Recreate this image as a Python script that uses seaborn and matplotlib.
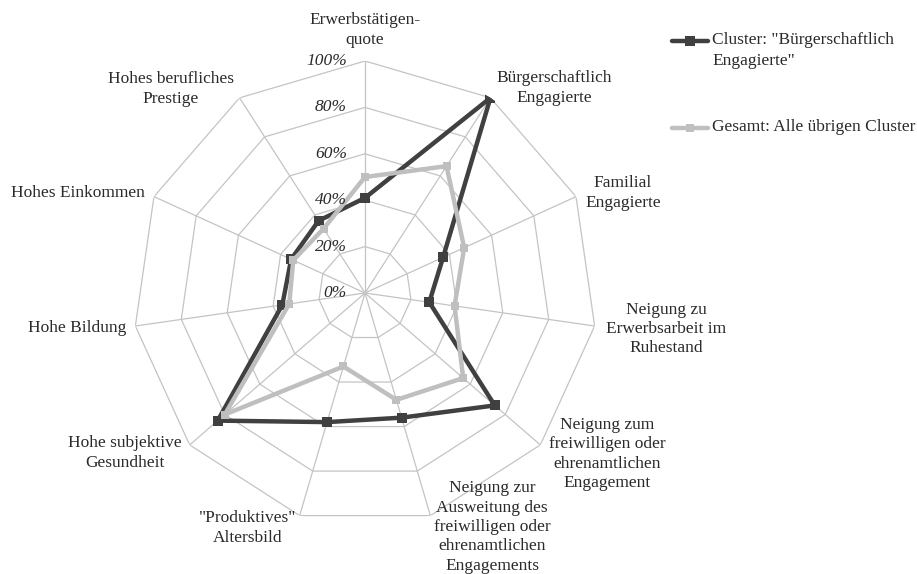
import numpy as np
import pandas as pd
import matplotlib
matplotlib.use("Agg")
import matplotlib.pyplot as plt
from matplotlib.lines import Line2D
import seaborn as sns

# Data (percent)
categories = [
    "Erwerbstätigen-\nquote",
    "Bürgerschaftlich\nEngagierte",
    "Familial\nEngagierte",
    "Neigung zu\nErwerbsarbeit im\nRuhestand",
    "Neigung zum\nfreiwilligen oder\nehrenamtlichen\nEngagement",
    "Neigung zur\nAusweitung des\nfreiwilligen oder\nehrenamtlichen\nEngagements",
    "\"Produktives\"\nAltersbild",
    "Hohe subjektive\nGesundheit",
    "Hohe Bildung",
    "Hohes Einkommen",
    "Hohes berufliches\nPrestige",
]
cluster_values = [41, 100, 37, 28, 74, 56, 58, 84, 36, 35, 37]
others_values = [50, 65, 47, 39, 56, 48, 33, 80, 33, 34, 33]
series_names = ["Cluster: \"Bürgerschaftlich\nEngagierte\"", "Gesamt: Alle übrigen Cluster"]
ring_levels = [0, 20, 40, 60, 80, 100]
ring_labels = ["0%", "20%", "40%", "60%", "80%", "100%"]

# layout (pixel centres of the category labels)
label_pos = [(365, 30), (554, 88), (623, 193), (666, 329), (607, 454), (492, 527),
             (248, 528), (125, 453), (77, 328), (78, 193), (171, 89)]

sns.set_theme(style="white")
plt.rcParams["font.family"] = ["Liberation Serif", "DejaVu Serif"]

DARK, LIGHT, GRID, TXT = "#404040", "#bfbfbf", "#c4c4c4", "#2a2a2a"
W, H = 917, 574
fig = plt.figure(figsize=(W / 100, H / 100), dpi=100)
cx, cy, R = 365, 293, 232
ax = fig.add_axes([(cx - R) / W, (H - cy - R) / H, 2 * R / W, 2 * R / H], projection="polar")
ax.set_theta_zero_location("N")
ax.set_theta_direction(-1)
ax.set_ylim(0, 100)
ax.grid(False)
ax.spines["polar"].set_visible(False)
ax.set_xticks([])
ax.set_yticks([])
ax.patch.set_alpha(0)

n = len(categories)
theta = np.linspace(0, 2 * np.pi, n, endpoint=False)
closed = np.append(theta, 2 * np.pi)

# polygon grid
for lvl in ring_levels[1:]:
    ax.plot(closed, [lvl] * (n + 1), color=GRID, lw=0.9, zorder=1)
for t in theta:
    ax.plot([t, t], [0, 100], color=GRID, lw=0.9, zorder=1)

# series
styles = [(cluster_values, DARK, 6.5), (others_values, LIGHT, 5.5)]
for vals, col, ms in styles:
    df = pd.DataFrame({"theta": closed, "value": vals + [vals[0]]})
    sns.lineplot(data=df, x="theta", y="value", sort=False, estimator=None, color=col,
                 lw=3.2, marker="s", markersize=ms, markeredgewidth=0, ax=ax, zorder=3)
ax.set_xlabel("")
ax.set_ylabel("")

# radial tick labels
for lvl, lab in zip(ring_levels, ring_labels):
    ax.annotate(lab, xy=(0, lvl), xytext=(-18, 0), textcoords="offset pixels",
                ha="right", va="center", fontsize=12.5, style="italic", color=TXT, zorder=4)

# category labels
for lab, (px, py) in zip(categories, label_pos):
    fig.text(px / W, 1 - py / H, lab, ha="center", va="center", fontsize=12.5,
             color=TXT, linespacing=1.28)

# legend, handle aligned with the first text line as in the reference
for (vals, col, ms), name, y in zip(styles, series_names, [41, 128]):
    yf = 1 - y / H
    fig.add_artist(Line2D([672 / W, 708 / W], [yf, yf], transform=fig.transFigure,
                          color=col, lw=3.2))
    fig.add_artist(Line2D([690 / W], [yf], transform=fig.transFigure, color=col,
                          marker="s", markersize=ms, markeredgewidth=0))
    fig.text(712 / W, 1 - (y - 9) / H, name, ha="left", va="top", fontsize=12.5,
             color=TXT, linespacing=1.4)

fig.savefig("out.png", dpi=100, facecolor="white")
